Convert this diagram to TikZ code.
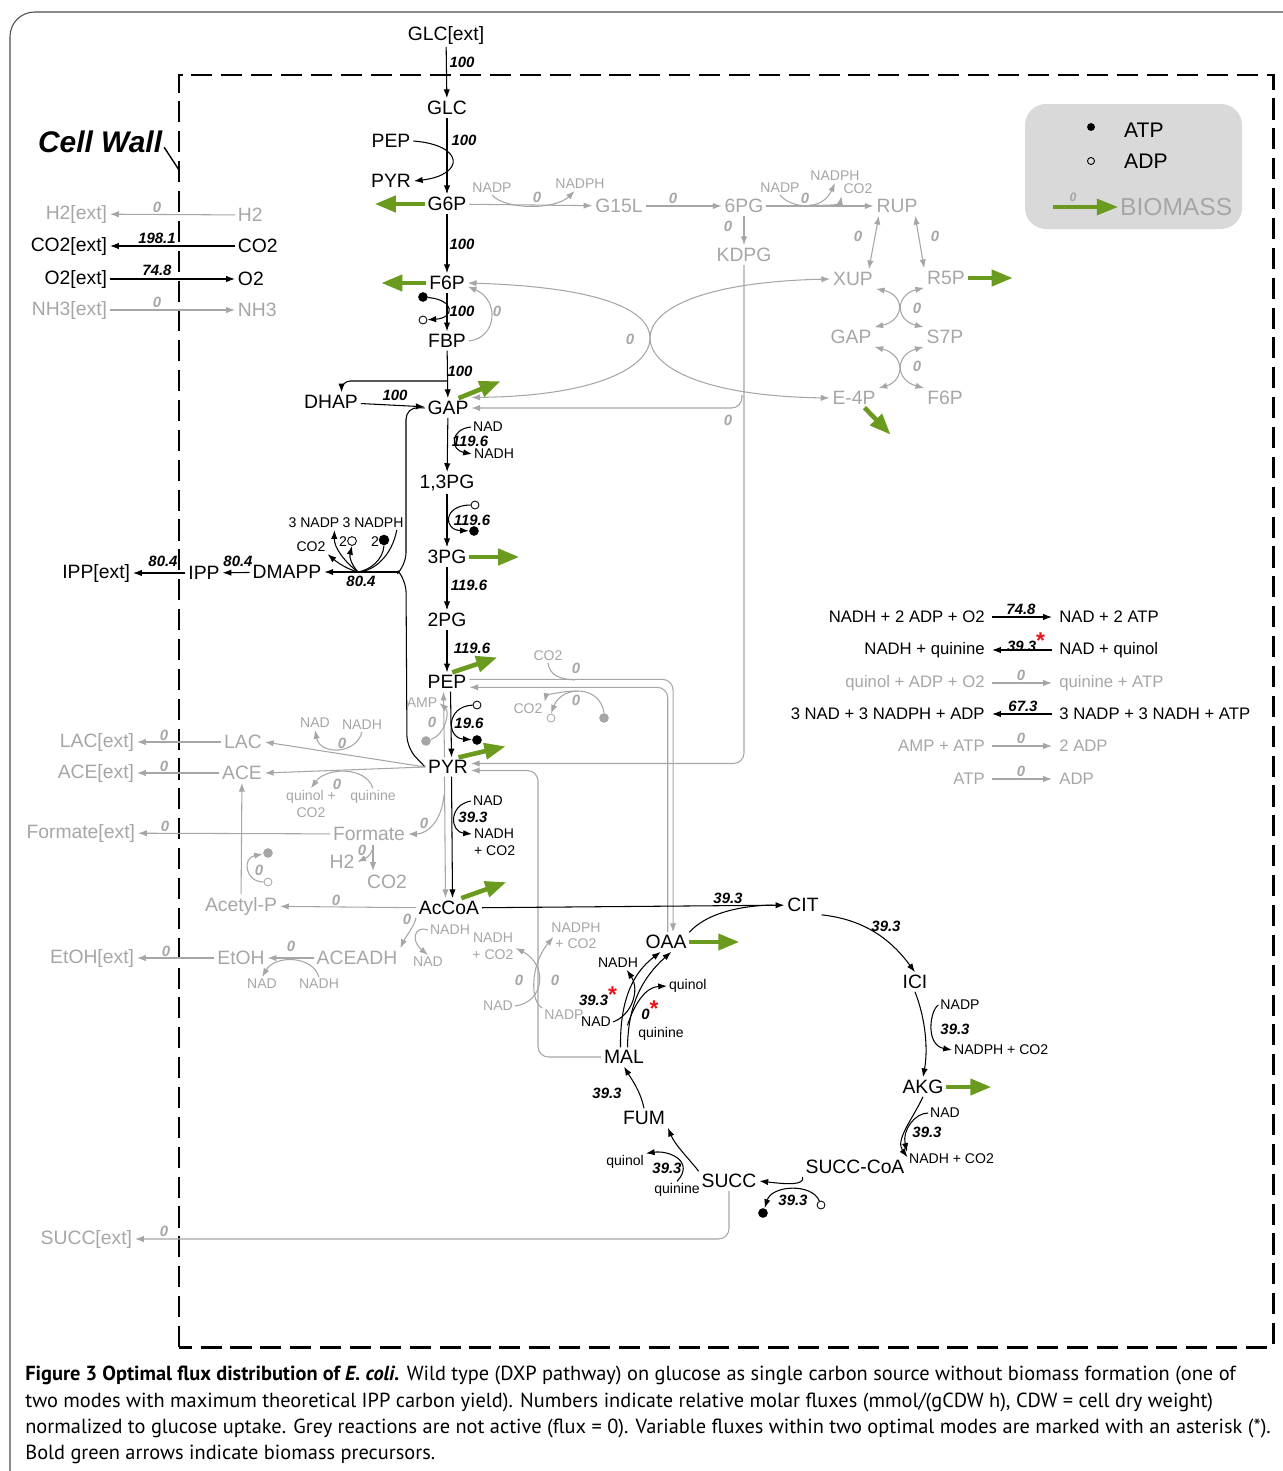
\documentclass[tikz,border=0pt]{standalone}
\usepackage{fontspec}
\setmainfont{Liberation Sans}
\newfontfamily\capfont{PT Sans}
\usetikzlibrary{arrows.meta}
\definecolor{inact}{HTML}{A6A6A6}
\definecolor{leaf}{HTML}{6A9A1E}
\definecolor{legendbg}{HTML}{D9D9D9}
\definecolor{starred}{HTML}{E8141B}
\newcommand{\vstar}{\textcolor{starred}{\raisebox{1.5pt}{\fontsize{13}{13}\selectfont\upshape *}}}
\tikzset{
  met/.style={font=\fontsize{11}{13}\selectfont, inner sep=1.5pt},
  gmet/.style={met, text=inact},
  cof/.style={font=\fontsize{8}{9.5}\selectfont, inner sep=1pt},
  gcof/.style={cof, text=inact},
  flux/.style={font=\fontsize{8.5}{10}\selectfont\bfseries\itshape, inner sep=1pt},
  gflux/.style={flux, text=inact},
  rx/.style={line width=0.6pt, -{Latex[length=5pt,width=3.6pt]}},
  grx/.style={rx, draw=inact},
  brx/.style={line width=0.6pt, draw=inact, {Latex[length=5pt,width=3.6pt]}-{Latex[length=5pt,width=3.6pt]}},
  bio/.style={line width=2.6pt, draw=leaf, -{Triangle[length=12pt,width=9pt]}},
  atpdot/.style={circle, fill=black, inner sep=0pt, minimum size=5.5pt},
  adpdot/.style={circle, draw=black, line width=0.5pt, inner sep=0pt, minimum size=4.5pt},
  gatpdot/.style={atpdot, fill=inact},
  gadpdot/.style={adpdot, draw=inact},
  eqn/.style={font=\fontsize{9.5}{11}\selectfont, inner xsep=4pt, inner ysep=1pt},
  geqn/.style={eqn, text=inact},
  captext/.style={font=\capfont\fontsize{11.6}{14}\selectfont, inner sep=0pt, anchor=west},
}
\begin{document}
\begin{tikzpicture}[x=0.02cm, y=-0.02cm]
\useasboundingbox (0,0) rectangle (1282,1471);
\draw[black!70, line width=0.6pt, rounded corners=14pt] (10,12) rectangle (1320,1520);
\draw[line width=1.7pt, dash pattern=on 12pt off 5pt] (179,1347) -- (179,75) -- (1273,75) -- (1273,1347) -- cycle;
\node[font=\fontsize{17}{20}\selectfont\bfseries\itshape, anchor=west, inner sep=1pt] (wall) at (36,142) {Cell Wall};
\draw[line width=0.8pt] ([yshift=-3pt]wall.east) -- (179,170);

% legend
\draw[fill=legendbg, draw=none, rounded corners=12pt] (1025,104) rectangle (1242,229);
\node[atpdot, minimum size=4.5pt] (lgatp) at (1091,127) {};
\node[font=\fontsize{12}{14}\selectfont, anchor=west] (lgatpt) at (1118,130) {ATP};
\node[adpdot, minimum size=4pt] (lgadp) at (1091,161) {};
\node[font=\fontsize{12}{14}\selectfont, anchor=west] (lgadpt) at (1118,161) {ADP};
\node[font=\fontsize{14}{16}\selectfont, text=inact, anchor=west, inner sep=1pt] (lgbio) at (1118,207) {BIOMASS};
\draw[bio, line width=2pt] (1053,207) -- (lgbio.west);
\node[gflux, font=\fontsize{7}{8}\selectfont\bfseries\itshape] (lgzero) at (1073,197) {0};

% main path
\node[met] (glcx) at (446,35) {GLC[ext]};
\node[met] (glc) at (447,108) {GLC};
\node[met] (pep0) at (391,141) {PEP};
\node[met] (pyr0) at (391,181) {PYR};
\node[met] (g6p) at (447,204) {G6P};
\node[met] (f6p) at (447,283) {F6P};
\node[met] (fbp) at (447,341) {FBP};
\node[met] (dhap) at (331,402) {DHAP};
\node[met] (gap) at (448,408) {GAP};
\node[met] (pg13) at (447,483) {1,3PG};
\node[met] (pg3) at (447,557) {3PG};
\node[met] (pg2) at (447,620) {2PG};
\node[met] (pep) at (447,682) {PEP};
\node[met] (pyr) at (448,767) {PYR};
\node[met] (accoa) at (449,908) {AcCoA};

\draw[rx] (glcx) -- (glc);
\draw[rx] (glc) -- (g6p);
\draw[rx] (pep0.east) .. controls (465,145) and (465,175) .. (pyr0.east);
\draw[rx] (g6p) -- (f6p);
\draw[rx] (f6p) -- (fbp);
\draw[rx] (fbp) -- (gap);
\coordinate (ald) at (447,381);
\draw[rx, rounded corners=5pt] (ald) -| ([xshift=6pt]dhap.north);
\draw[rx] (dhap) -- (gap);
\draw[rx] (gap) -- (pg13);
\draw[rx] (pg13) -- (pg3);
\draw[rx] (pg3) -- (pg2);
\draw[rx] (pg2) -- (pep);
\draw[rx] ([xshift=2pt]pep.south) -- ([xshift=2pt]pyr.north);
\draw[grx] ([xshift=-2pt]pyr.north) -- ([xshift=-2pt]pep.south);
\draw[rx] ([xshift=2pt]pyr.south) -- ([xshift=2pt]accoa.north);
\draw[grx] ([xshift=-2pt]pyr.south) -- ([xshift=-2pt]accoa.north);

\node[flux] (v1) at (462,62) {100};
\node[flux] (v2) at (464,140) {100};
\node[flux] (v3) at (462,244) {100};
\node[flux] (v4) at (462,311) {100};
\node[flux] (v5) at (460,371) {100};
\node[flux] (v6) at (395,395) {100};
\node[flux] (v7) at (470,441) {119.6};
\node[flux] (v8) at (472,520) {119.6};
\node[flux] (v9) at (469,585) {119.6};
\node[flux] (v10) at (472,648) {119.6};
\node[flux] (v11) at (469,723) {19.6};
\node[flux] (v12) at (473,817) {39.3};

% cofactors of the main path
\node[atpdot] (fa) at (423,297) {};
\node[adpdot] (fd) at (423,320) {};
\draw[rx] (fa) .. controls (455,300) and (455,318) .. (fd);
\node[cof, anchor=west] (nad1) at (471,427) {NAD};
\node[cof, anchor=west] (nadh1) at (472,454) {NADH};
\draw[rx] (nad1.west) .. controls (450,429) and (450,450) .. (nadh1.west);
\node[adpdot] (pd) at (475,505) {};
\node[atpdot] (pa) at (474,531) {};
\draw[rx] (pd) .. controls (443,505) and (443,530) .. (pa);
\node[adpdot] (kd) at (477,705) {};
\node[atpdot] (ka) at (477,740) {};
\draw[rx] (kd) .. controls (446,706) and (446,738) .. (ka);
\node[cof, anchor=west] (nad2) at (471,801) {NAD};
\node[cof, anchor=west] (nadh2) at (472,834) {NADH};
\node[cof, anchor=west] (co2b) at (472,851) {+ CO2};
\draw[rx] (nad2.west) .. controls (448,805) and (450,832) .. (nadh2.west);

% biomass drains
\draw[bio] (g6p.west) -- ++(-50,0);
\draw[bio] (f6p.west) -- ++(-45,0);
\draw[bio] ([xshift=6pt]gap.north) -- ++(42,-17);
\draw[bio] (pg3.east) -- ++(50,0);
\draw[bio] ([xshift=3pt]pep.north) -- ++(45,-15);
\draw[bio] ([xshift=6pt]pyr.north) -- ++(47,-11);
\draw[bio] ([xshift=7pt]accoa.north) -- ++(45,-16);

% exchange across the wall
\node[gmet, anchor=east] (h2x) at (110,214) {H2[ext]};
\node[gmet, anchor=west] (h2i) at (235,215) {H2};
\node[met, anchor=east] (co2x) at (110,246) {CO2[ext]};
\node[met, anchor=west] (co2i) at (235,246) {CO2};
\node[met, anchor=east] (o2x) at (110,279) {O2[ext]};
\node[met, anchor=west] (o2i) at (235,279) {O2};
\node[gmet, anchor=east] (nh3x) at (110,310) {NH3[ext]};
\node[gmet, anchor=west] (nh3i) at (235,310) {NH3};
\draw[grx] (h2i) -- (h2x);
\draw[rx] (co2i) -- (co2x);
\draw[rx] (o2x) -- (o2i);
\draw[grx] (nh3x) -- (nh3i);
\node[gflux] (w1) at (157,207) {0};
\node[flux] (w2) at (157,238) {198.1};
\node[flux] (w3) at (157,270) {74.8};
\node[gflux] (w4) at (157,302) {0};

% isoprenoids
\node[met, anchor=east] (ippx) at (133,573) {IPP[ext]};
\node[met] (ipp) at (204,573) {IPP};
\node[met] (dmapp) at (287,572) {DMAPP};
\coordinate (dxp) at (399,572);
\draw[line width=0.6pt, rounded corners=7pt] (gap.west) -- (406,407) -- (406,565) -- (dxp);
\draw[line width=0.6pt, rounded corners=7pt] (pyr.west) -- (407,748) -- (406,580) -- (dxp);
\draw[rx] (dxp) -- (dmapp);
\draw[rx] (dmapp) -- (ipp);
\draw[rx] (ipp) -- (ippx);
\node[flux] (i1) at (361,581) {80.4};
\node[flux] (i2) at (238,561) {80.4};
\node[flux] (i3) at (163,561) {80.4};
\coordinate (dxs) at (358,572);
\node[cof] (nadp9) at (314,523) {3 NADP};
\node[cof] (nadph9) at (373,523) {3 NADPH};
\node[cof] (co2h) at (311,547) {CO2};
\node[cof] (two1) at (343,542) {2};
\node[adpdot, minimum size=5pt] (d11) at (352,541) {};
\node[cof] (two2) at (375,542) {2};
\node[atpdot, minimum size=6pt] (a11) at (384,540) {};
\draw[rx] (dxs) .. controls (345,562) and (334,548) .. ([xshift=-4pt]nadp9.south east);
\draw[rx] (dxs) .. controls (347,569) and (338,563) .. (co2h.south east);
\draw[rx] (dxs) .. controls (352,565) and (349,558) .. (d11.south);
\draw[line width=0.6pt] (a11.south) .. controls (383,560) and (370,570) .. (dxs);
\draw[line width=0.6pt] ([xshift=-5pt]nadph9.south east) .. controls (392,555) and (375,571) .. (dxs);

% pentose phosphate and ED pathway
\node[gmet] (g15l) at (619,206) {G15L};
\node[gmet] (pg6) at (744,206) {6PG};
\node[gmet] (rup) at (897,206) {RUP};
\node[gmet] (kdpg) at (744,255) {KDPG};
\node[gmet] (xup) at (853,279) {XUP};
\node[gmet] (r5p) at (946,278) {R5P};
\node[gmet] (gap2) at (851,337) {GAP};
\node[gmet] (s7p) at (945,337) {S7P};
\node[gmet] (e4p) at (854,398) {E-4P};
\node[gmet] (f6p2) at (945,398) {F6P};
\draw[grx] (g6p) -- (g15l);
\draw[grx] (g15l) -- (pg6);
\draw[grx] (pg6) -- (rup);
\draw[grx] (pg6) -- (kdpg);
\node[gcof] (nadp1) at (492,188) {NADP};
\node[gcof] (nadph1) at (580,184) {NADPH};
\draw[grx] (nadp1.south) .. controls (505,210) and (555,210) .. ([xshift=-3pt]nadph1.south);
\node[gcof] (nadp2) at (780,188) {NADP};
\node[gcof] (nadph2) at (835,176) {NADPH};
\node[gcof] (co2a) at (858,189) {CO2};
\coordinate (gnd) at (810,205);
\draw[grx] (nadp2.south) .. controls (790,208) and (822,212) .. (nadph2.south);
\draw[grx] (gnd) .. controls (830,206) and (840,204) .. (co2a.south west);
\node[gflux] (p1) at (537,197) {0};
\node[gflux] (p2) at (673,198) {0};
\node[gflux] (p3) at (805,198) {0};
\node[gflux] (p4) at (728,226) {0};
\draw[brx] ([xshift=3pt]rup.south west) -- ([xshift=-4pt]xup.north east);
\draw[brx] ([xshift=-3pt]rup.south east) -- (r5p.north west);
\node[gflux] (p5) at (858,236) {0};
\node[gflux] (p6) at (935,236) {0};
\draw[brx] (xup.south east) .. controls (905,295) and (905,320) .. (gap2.north east);
\draw[brx] (r5p.south west) .. controls (895,295) and (895,320) .. (s7p.north west);
\node[gflux] (p7) at (917,308) {0};
\draw[brx] (gap2.south east) .. controls (905,355) and (905,380) .. (e4p.north east);
\draw[brx] (s7p.south west) .. controls (895,355) and (895,380) .. (f6p2.north west);
\node[gflux] (p8) at (917,366) {0};
\draw[brx] (f6p.east) .. controls (600,287) and (650,310) .. (650,338) .. controls (650,366) and (600,396) .. ([yshift=6pt]gap.east);
\draw[brx] (xup.west) .. controls (700,282) and (650,310) .. (650,338) .. controls (650,366) and (700,396) .. (e4p.west);
\node[gflux] (p9) at (630,339) {0};
\draw[grx] (fbp.east) .. controls (497,338) and (500,300) .. ([yshift=-2pt]f6p.east);
\node[gflux] (p10) at (497,311) {0};
\draw[grx, rounded corners=6pt] (kdpg.south) |- ([yshift=2pt]pyr.east);
\coordinate (edb) at (742,395);
\draw[grx, rounded corners=6pt] (edb) |- (gap.east);
\node[gflux] (p11) at (728,420) {0};
\draw[bio] (r5p.east) -- ++(45,0);
\draw[bio] ([xshift=6pt]e4p.south) -- ++(26,27);

% PEP / PYR side reactions
\node[gcof] (amp) at (422,703) {AMP};
\node[gatpdot] (ga1) at (426,741) {};
\draw[grx] (ga1) .. controls (445,735) and (450,712) .. (amp.east);
\node[gflux] (q1) at (432,722) {0};
\node[gmet] (lac) at (243,742) {LAC};
\node[gmet, anchor=east] (lacx) at (137,742) {LAC[ext]};
\node[gmet] (ace) at (242,773) {ACE};
\node[gmet, anchor=east] (acex) at (137,773) {ACE[ext]};
\draw[grx] (pyr.west) -- (lac.east);
\draw[grx] (pyr.west) -- (ace.east);
\draw[grx] (lac) -- (lacx);
\draw[grx] (ace) -- (acex);
\node[gflux] (q2) at (164,735) {0};
\node[gflux] (q3) at (164,766) {0};
\node[gcof] (nad3) at (315,723) {NAD};
\node[gcof] (nadh3) at (362,725) {NADH};
\draw[grx] (nadh3.south) .. controls (356,755) and (320,755) .. (nad3.south);
\node[gflux] (q4) at (342,743) {0};
\node[gcof] (qn3) at (373,797) {quinine};
\node[gcof] (ql3) at (311,797) {quinol +};
\node[gcof] (co2c) at (311,813) {CO2};
\draw[grx] (qn3.north) .. controls (365,765) and (325,768) .. (ql3.north);
\node[gflux] (q5) at (337,784) {0};
\node[gmet] (formate) at (369,834) {Formate};
\node[gmet, anchor=east] (formatex) at (138,833) {Formate[ext]};
\draw[grx] (formate) -- (formatex);
\node[gflux] (q6) at (165,826) {0};
\coordinate (pfl) at (444,795);
\draw[grx] (pfl) .. controls (442,820) and (428,834) .. (formate.east);
\node[gflux] (q7) at (424,823) {0};
\node[gmet] (h2b) at (342,862) {H2};
\node[gmet] (co2e) at (387,882) {CO2};
\coordinate (fhl) at (373,845);
\draw[grx] (fhl) -- (373,871);
\draw[grx] (fhl) .. controls (373,853) and (368,857) .. (h2b.east);
\node[gflux] (q8) at (362,850) {0};
\node[gmet] (acp) at (241,906) {Acetyl-P};
\draw[grx] (acp) -- (ace);
\draw[grx] (accoa) -- (acp);
\node[gflux] (q9) at (336,900) {0};
\node[gatpdot] (ga2) at (268,853) {};
\node[gadpdot] (gd2) at (268,882) {};
\draw[grx] (gd2) .. controls (245,882) and (242,858) .. (ga2);
\node[gflux] (q10) at (259,870) {0};
\node[gmet] (aceadh) at (357,958) {ACEADH};
\node[gmet] (etoh) at (241,958) {EtOH};
\node[gmet, anchor=east] (etohx) at (137,958) {EtOH[ext]};
\draw[grx] (accoa.south west) .. controls (415,925) and (405,938) .. (aceadh.north east);
\node[gcof] (nadh4) at (450,930) {NADH};
\node[gcof] (nad4) at (428,962) {NAD};
\draw[grx] (nadh4.west) .. controls (415,925) and (410,940) .. (nad4.north);
\node[gflux] (q11) at (407,919) {0};
\draw[grx] (aceadh) -- (etoh);
\draw[grx] (etoh) -- (etohx);
\node[gcof] (nadh5) at (319,984) {NADH};
\node[gcof] (nad5) at (262,984) {NAD};
\draw[grx] (nadh5.north) .. controls (312,955) and (275,955) .. (nad5.north);
\node[gflux] (q12) at (291,946) {0};
\node[gflux] (q13) at (166,951) {0};

% anaplerotic reactions
\node[met] (oaa) at (666,942) {OAA};
\draw[grx, rounded corners=6pt] ([yshift=1.5pt]pep.east) -| ([xshift=4pt]oaa.north);
\draw[grx, rounded corners=6pt] ([xshift=1pt]oaa.north) |- ([yshift=-3pt]pep.east);
\node[gcof] (co2f) at (548,656) {CO2};
\draw[draw=inact, line width=0.6pt] (co2f.south) .. controls (550,676) and (560,679) .. (575,680);
\node[gflux] (a1) at (576,668) {0};
\node[gcof] (co2g) at (528,709) {CO2};
\node[gadpdot] (gd3) at (551,718) {};
\node[gatpdot] (ga3) at (604,718) {};
\draw[grx] (ga3.north) .. controls (600,685) and (562,685) .. (gd3.north);
\draw[grx] (578,691) .. controls (560,691) and (546,696) .. (co2g.north east);
\node[gflux] (a2) at (576,700) {0};
\node[met] (mal) at (624,1057) {MAL};
\draw[grx, rounded corners=6pt] (mal.west) -| (538,900) |- ([yshift=-2pt]pyr.east);
\node[gcof] (nad6) at (498,1006) {NAD};
\node[gcof] (nadh6) at (493,938) {NADH};
\node[gcof] (co2d) at (493,955) {+ CO2};
\node[gcof] (nadp6) at (564,1015) {NADP};
\node[gcof] (nadph6) at (576,928) {NADPH};
\node[gcof] (co2k) at (576,944) {+ CO2};
\draw[grx] (nad6.east) .. controls (545,1002) and (548,965) .. (co2d.north east);
\draw[grx] (nadp6.north west) .. controls (530,1002) and (530,965) .. (co2k.north west);
\node[gflux] (a3) at (519,980) {0};
\node[gflux] (a4) at (555,980) {0};

% TCA cycle
\node[met] (cit) at (803,905) {CIT};
\node[met] (ici) at (915,982) {ICI};
\node[met] (akg) at (923,1087) {AKG};
\node[met] (succcoa) at (855,1167) {SUCC-CoA};
\node[met] (succ) at (729,1181) {SUCC};
\node[met] (fum) at (644,1118) {FUM};
\node[gmet, anchor=east] (succx) at (135,1239) {SUCC[ext]};
\draw[rx] (accoa) -- (cit);
\draw[line width=0.6pt] (oaa.north east) .. controls (705,915) and (735,906) .. (772,905);
\node[flux] (t1) at (728,898) {39.3};
\draw[rx] (cit.south east) .. controls (870,920) and (895,945) .. (ici.north);
\node[flux] (t2) at (886,926) {39.3};
\draw[rx] (ici.south) .. controls (926,1020) and (928,1050) .. (akg.north);
\node[cof] (nadp7) at (960,1005) {NADP};
\node[cof, anchor=west] (nadph7) at (952,1050) {NADPH + CO2};
\draw[rx] (nadp7.west) .. controls (930,1010) and (925,1045) .. (nadph7.west);
\node[flux] (t3) at (955,1029) {39.3};
\draw[rx] (akg.south) .. controls (912,1120) and (895,1140) .. (succcoa.north east);
\node[cof] (nad8) at (945,1113) {NAD};
\node[cof, anchor=west] (nadh8) at (907,1159) {NADH + CO2};
\draw[rx] (nad8.west) .. controls (915,1113) and (902,1130) .. (nadh8.north west);
\node[flux] (t4) at (927,1132) {39.3};
\draw[rx] (succcoa.south west) .. controls (805,1186) and (785,1184) .. (succ.east);
\node[adpdot] (sd) at (821,1205) {};
\node[atpdot] (sa) at (763,1213) {};
\draw[rx] (sd) .. controls (812,1183) and (772,1185) .. (sa);
\node[flux] (t5) at (793,1200) {39.3};
\draw[rx] (succ.north west) .. controls (690,1160) and (675,1145) .. (fum.south east);
\node[cof] (ql9) at (625,1162) {quinol};
\node[cof] (qn9) at (677,1190) {quinine};
\draw[rx] (qn9.north) .. controls (695,1162) and (670,1150) .. (ql9.north east);
\node[flux] (t6) at (667,1168) {39.3};
\draw[rx] (fum.north) .. controls (640,1090) and (632,1080) .. (mal.south);
\node[flux] (t7) at (607,1093) {39.3};
\draw[rx] ([xshift=-2pt]mal.north) .. controls (620,1005) and (630,975) .. ([xshift=-3pt]oaa.south);
\draw[rx] ([xshift=2pt]mal.north) .. controls (628,1005) and (642,978) .. ([xshift=3pt]oaa.south);
\node[cof] (nad10) at (596,1022) {NAD};
\node[cof] (nadh10) at (618,963) {NADH};
\draw[rx] (nad10.east) .. controls (632,1015) and (640,990) .. ([xshift=5pt]nadh10.south);
\node[flux] (t8) at (598,996) {39.3\vstar};
\node[cof] (qn10) at (661,1034) {quinine};
\node[cof, anchor=west] (ql10) at (667,986) {quinol};
\draw[rx] ([xshift=-5pt]qn10.north west) .. controls (634,1005) and (645,987) .. (ql10.west);
\node[flux] (t9) at (650,1010) {0\vstar};
\draw[bio] (oaa.east) -- ++(50,0);
\draw[bio] (akg.east) -- ++(45,0);
\draw[grx, rounded corners=6pt] (succ.south) |- (succx);
\node[gflux] (t10) at (164,1231) {0};

% overall reactions
\node[eqn, anchor=east] (l1) at (992,617) {NADH + 2 ADP + O2};
\node[eqn, anchor=west] (r1) at (1052,617) {NAD + 2 ATP};
\draw[rx] (l1) -- (r1);
\node[flux] (e1) at (1021,609) {74.8};
\node[eqn, anchor=east] (l2) at (992,650) {NADH + quinine};
\node[eqn, anchor=west] (r2) at (1052,650) {NAD + quinol};
\draw[rx] (r2) -- (l2);
\node[flux] (e2) at (1026,642) {39.3\vstar};
\node[geqn, anchor=east] (l3) at (992,683) {quinol + ADP + O2};
\node[geqn, anchor=west] (r3) at (1052,683) {quinine + ATP};
\draw[grx] (l3) -- (r3);
\node[gflux] (e3) at (1021,675) {0};
\node[eqn, anchor=east] (l4) at (992,714) {3 NAD + 3 NADPH + ADP};
\node[eqn, anchor=west] (r4) at (1052,714) {3 NADP + 3 NADH + ATP};
\draw[rx] (r4) -- (l4);
\node[flux] (e4) at (1023,706) {67.3};
\node[geqn, anchor=east] (l5) at (992,746) {AMP + ATP};
\node[geqn, anchor=west] (r5) at (1052,746) {2 ADP};
\draw[grx] (l5) -- (r5);
\node[gflux] (e5) at (1021,738) {0};
\node[geqn, anchor=east] (l6) at (992,779) {ATP};
\node[geqn, anchor=west] (r6) at (1052,779) {ADP};
\draw[grx] (l6) -- (r6);
\node[gflux] (e6) at (1021,771) {0};

% caption
\node[captext] (c1) at (25,1375) {\textbf{Figure 3 Optimal flux distribution of \textit{E. coli.}} Wild type (DXP pathway) on glucose as single carbon source without biomass formation (one of};
\node[captext] (c2) at (25,1402) {two modes with maximum theoretical IPP carbon yield). Numbers indicate relative molar fluxes (mmol/(gCDW h), CDW = cell dry weight)};
\node[captext] (c3) at (25,1428) {normalized to glucose uptake. Grey reactions are not active (flux = 0). Variable fluxes within two optimal modes are marked with an asterisk (*).};
\node[captext] (c4) at (25,1454) {Bold green arrows indicate biomass precursors.};
\end{tikzpicture}
\end{document}
